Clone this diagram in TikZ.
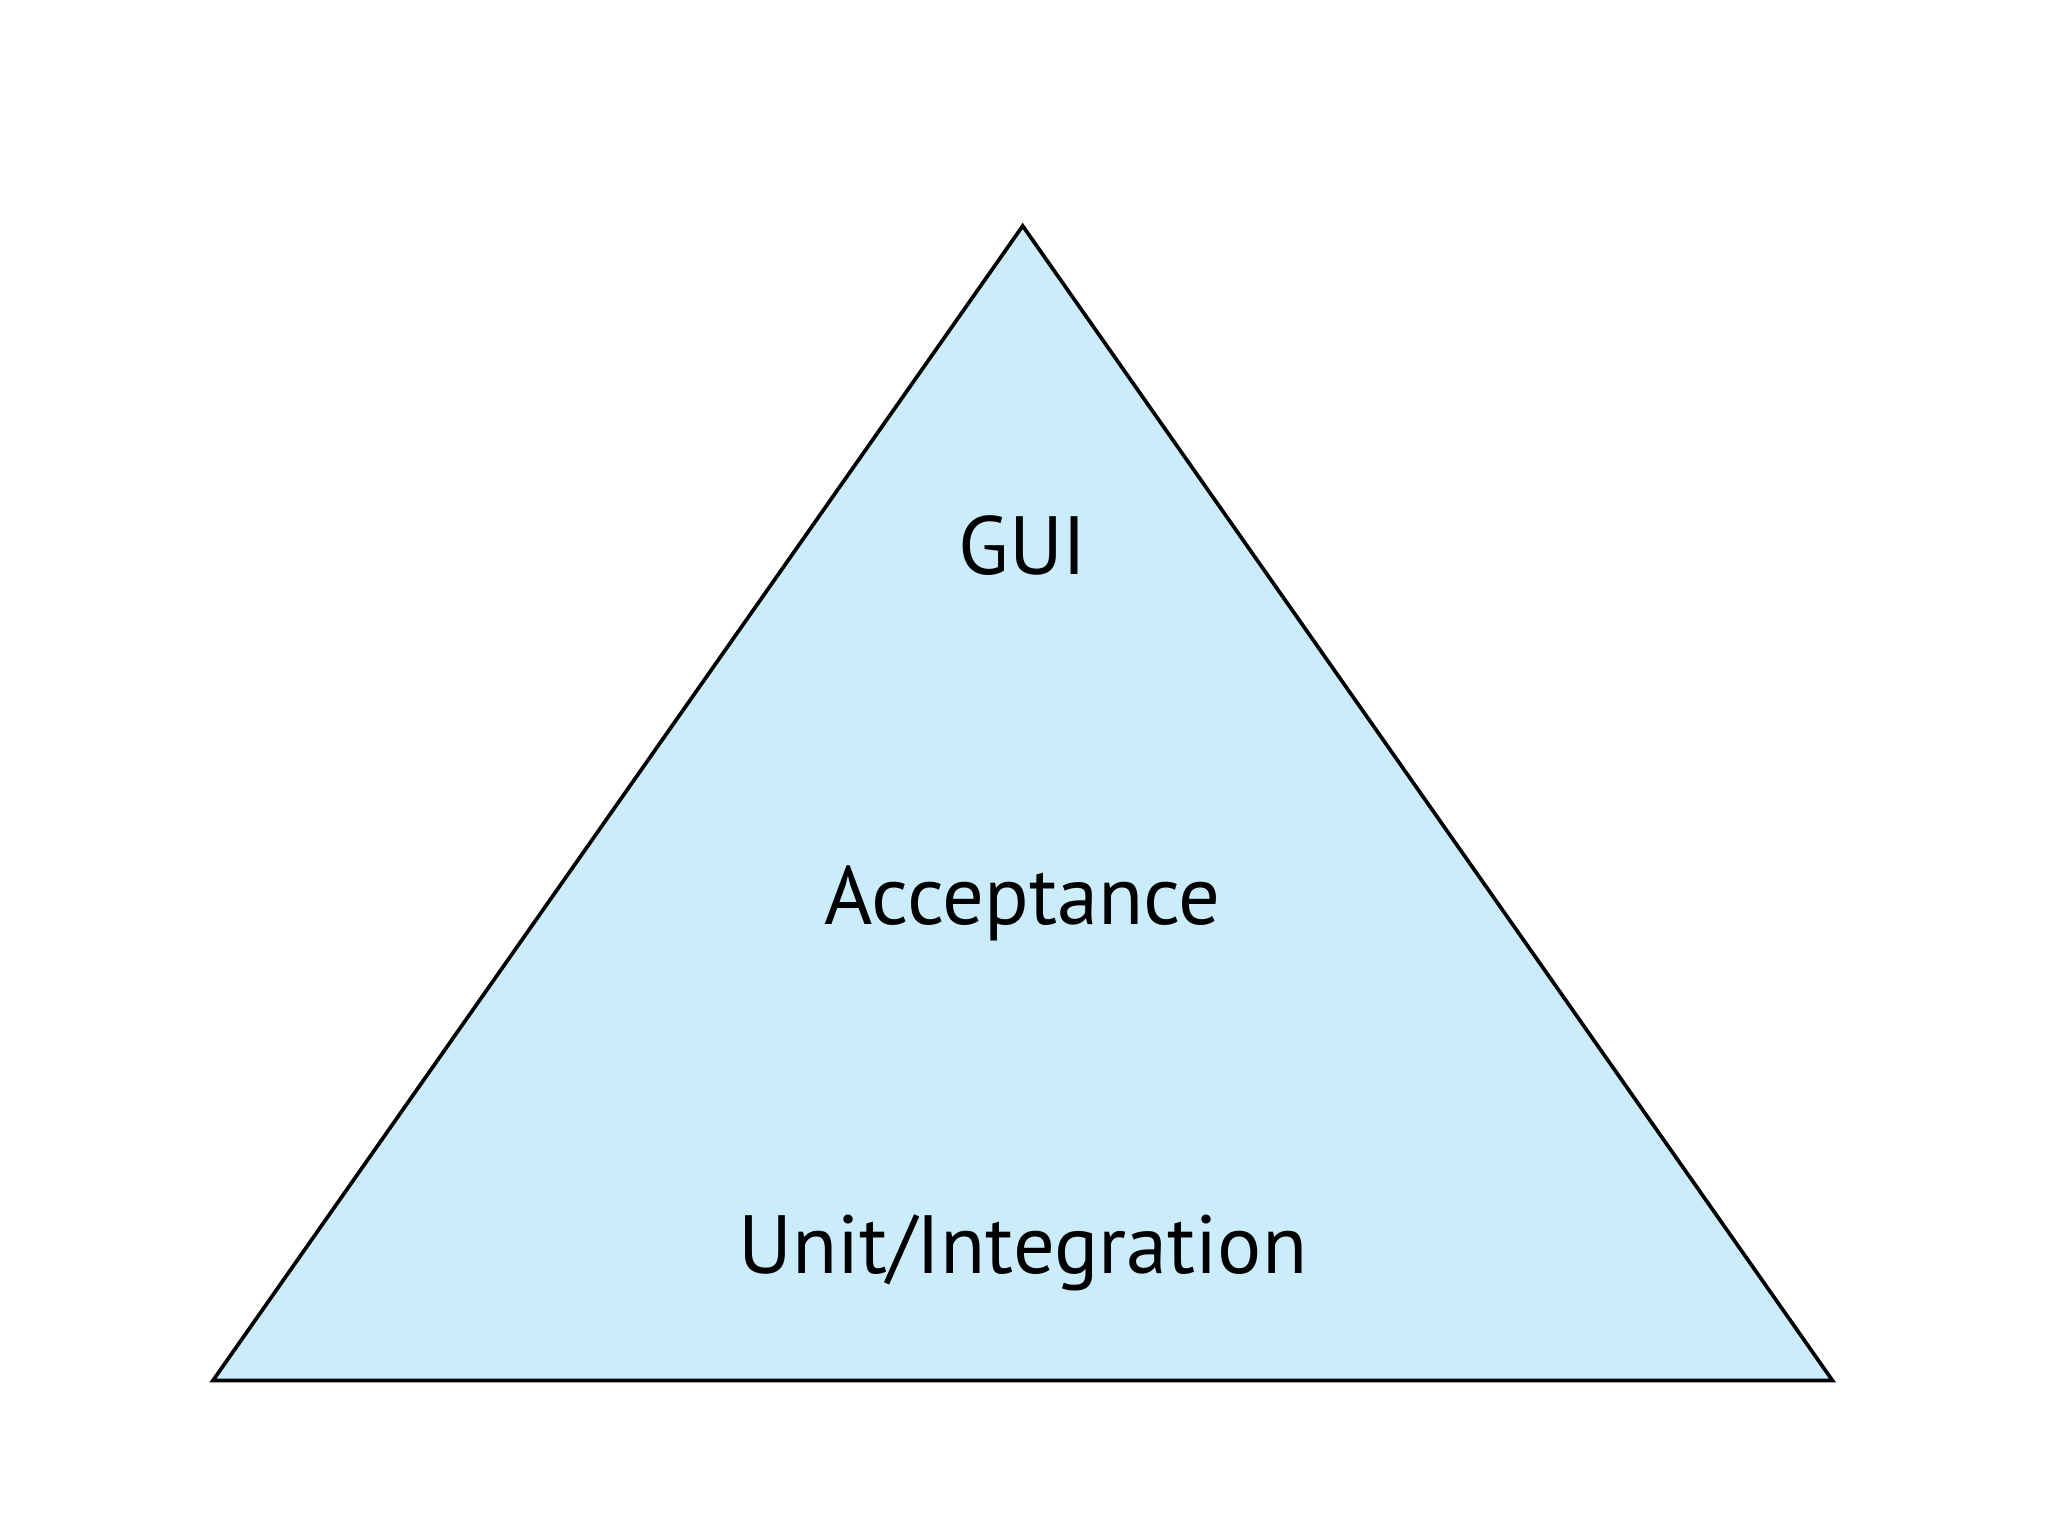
\documentclass[tikz,border=0pt]{standalone}
\usepackage{fontspec}
\setmainfont{PT Sans}
\definecolor{pyramidblue}{HTML}{CBEDFB}
\tikzset{
  layer/.style={anchor=base, inner sep=0pt, font=\fontsize{18}{20}\selectfont}
}
\begin{document}
\begin{tikzpicture}
\useasboundingbox (0,0) rectangle (15.68,11.76);
\coordinate (top) at (7.83,10.03);
\coordinate (left) at (1.63,1.19);
\coordinate (right) at (14.03,1.19);
\draw [black, line width=0.8pt, fill=pyramidblue] (top) -- (right) -- (left) -- cycle;
\node [layer] (gui) at (7.83,7.36) {GUI};
\node [layer] (acc) at (7.83,4.68) {Acceptance};
\node [layer] (unit) at (7.83,2.01) {Unit/Integration};
\end{tikzpicture}
\end{document}
